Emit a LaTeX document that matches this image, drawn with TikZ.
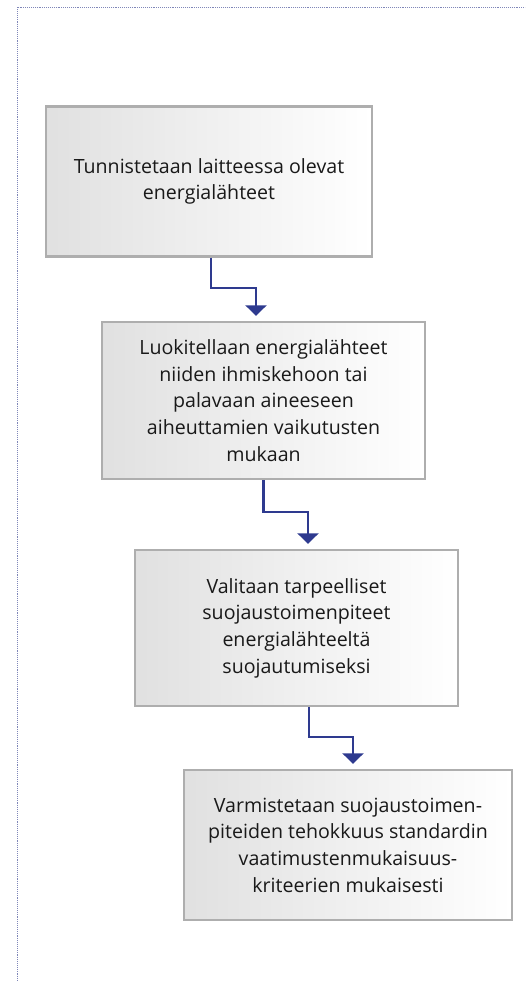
\documentclass[tikz,border=0pt]{standalone}
\usepackage{fontspec}
\setmainfont{Open Sans}
\usepackage{tikz}
\usetikzlibrary{arrows.meta}
\definecolor{flowblue}{HTML}{2E3A8F}
\definecolor{boxgray}{HTML}{AEAEAE}
\definecolor{framedot}{HTML}{7F86B8}
\tikzstyle{stepbox} = [draw=boxgray, line width=2.4pt, left color=black!12, right color=white, minimum width=325, minimum height=153, align=center, inner sep=0pt, font=\fontsize{19.6}{26.7}\selectfont, text=black!90]
\tikzstyle{arrow} = [draw=flowblue, line width=2.3pt, -{Triangle[width=21pt,length=10.5pt]}, shorten >=5pt]

\begin{document}
\begin{tikzpicture}[x=1pt, y=-1pt]
		\useasboundingbox (0,0) rectangle (525,981);
		\draw[framedot, densely dotted, line width=0.9pt] (17,981) -- (17,7) -- (525,7);

		\node[stepbox, minimum width=326, minimum height=150] (ident) at (209,181.5) {Tunnistetaan laitteessa olevat\\energialähteet};
		\node[stepbox, minimum width=323, minimum height=157] (luok) at (263.5,400.5) {Luokitellaan energialähteet\\niiden ihmiskehoon tai\\palavaan aineeseen\\aiheuttamien vaikutusten\\mukaan};
		\node[stepbox, minimum width=323, minimum height=156] (valit) at (296.5,628) {Valitaan tarpeelliset\\suojaustoimenpiteet\\energialähteeltä\\suojautumiseksi};
		\node[stepbox, minimum width=328, minimum height=150] (varm) at (348,845) {Varmistetaan suojaustoimen-\\piteiden tehokkuus standardin\\vaatimustenmukaisuus-\\kriteerien mukaisesti};

		\draw[arrow] ([xshift=2]ident.south) -- ++(0,30) -| ([xshift=-7.5]luok.north);
		\draw[arrow] (luok.south) -- ++(0,32) -| ([xshift=11.5]valit.north);
		\draw[arrow] ([xshift=12.5]valit.south) -- ++(0,30) -| ([xshift=5]varm.north);

	\end{tikzpicture}
\end{document}
